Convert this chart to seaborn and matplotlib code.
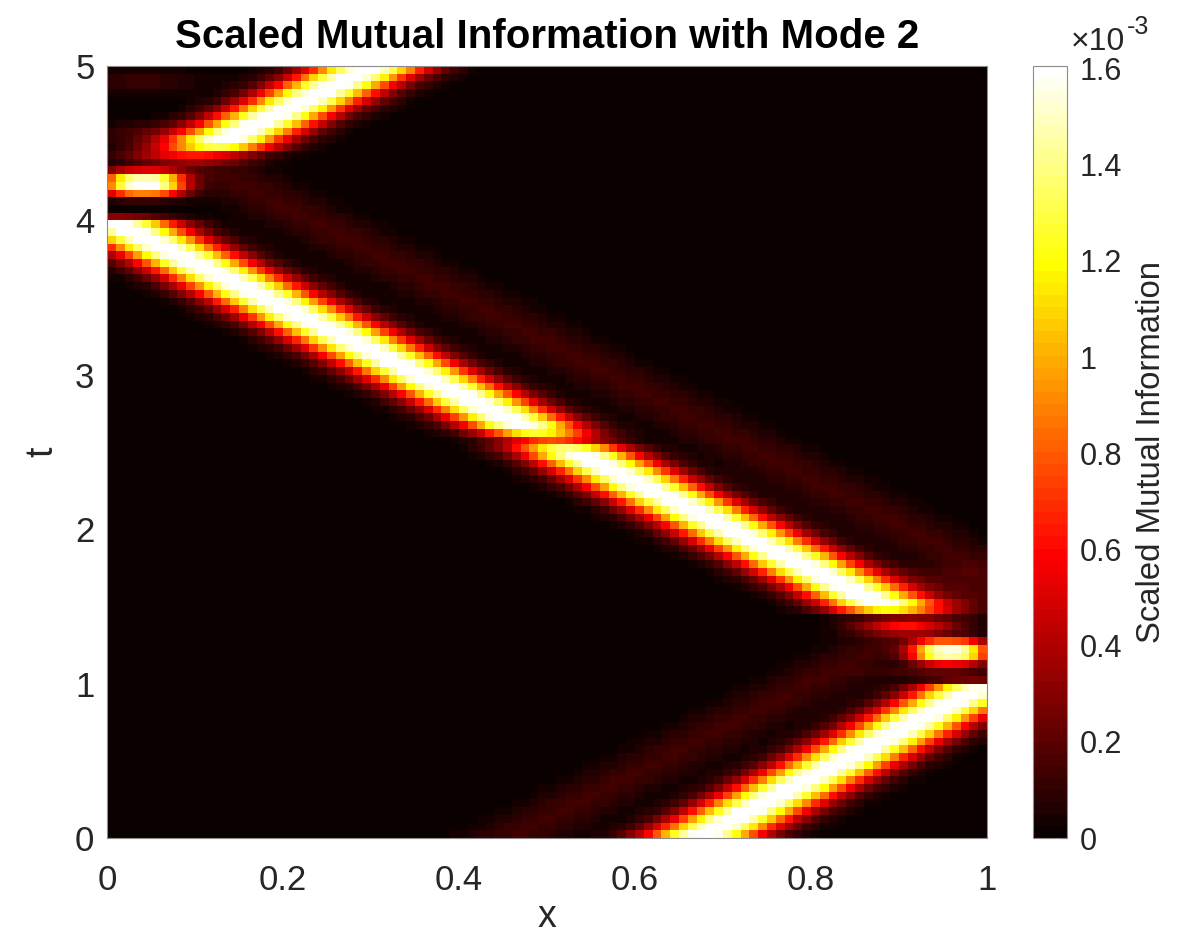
import numpy as np
import pandas as pd
import matplotlib
matplotlib.use("Agg")
import matplotlib.pyplot as plt
import seaborn as sns
from matplotlib.colors import ListedColormap
from matplotlib.ticker import FuncFormatter

# ---- grid of the (x, t) field -------------------------------------------
n_x, n_t = 100, 100
x_max, t_max = 1.0, 5.0
x_centers = (np.arange(n_x) + 0.5) / n_x * x_max
t_centers = (np.arange(n_t) + 0.5) / n_t * t_max

VMAX = 1.605e-3

# ---- bright travelling packets (straight ridges in the x-t plane) -------
ridge_t_start = [-0.10, 1.50, 4.50]
ridge_t_end = [0.965, 3.97, 5.10]
ridge_x_start = [0.638, 0.885, 0.128]
ridge_x_end = [0.990, 0.013, 0.338]
ridge_peak = [1.66e-3, 1.66e-3, 1.66e-3]
ridge_sigma = [0.045, 0.045, 0.045]

# dip of the left-going packet where it crosses the middle of the box
dip_t = [2.58]
dip_depth = [0.55]
dip_width = [0.035]

# ---- faint trailing packets ---------------------------------------------
ghost_t_start = [-0.10, 1.75]
ghost_t_end = [1.60, 4.35]
ghost_x_start = [0.424, 0.994]
ghost_x_end = [1.002, 0.113]
ghost_peak = [0.13e-3, 0.13e-3]
ghost_sigma = [0.042, 0.042]

# ---- localized spots at the walls (reflections) -------------------------
spot_x = [0.958, 0.042, 0.905, 0.095, 0.950, 0.040, 0.050, 0.950]
spot_t = [1.205, 4.240, 1.370, 4.420, 1.060, 4.900, 4.570, 1.680]
spot_sx = [0.033, 0.035, 0.040, 0.050, 0.050, 0.050, 0.050, 0.050]
spot_st = [0.060, 0.060, 0.035, 0.035, 0.018, 0.050, 0.050, 0.060]
spot_peak = [1.58e-3, 1.66e-3, 0.50e-3, 0.55e-3, 0.25e-3, 0.12e-3, 0.12e-3, 0.10e-3]
spot_power = [2.6, 2.6, 2.0, 2.0, 2.0, 2.0, 2.0, 2.0]

# ---- tick labels ---------------------------------------------------------
x_tick_labels = ["0", "0.2", "0.4", "0.6", "0.8", "1"]
t_tick_labels = ["0", "1", "2", "3", "4", "5"]
cbar_ticks = [0, 0.2e-3, 0.4e-3, 0.6e-3, 0.8e-3, 1.0e-3, 1.2e-3, 1.4e-3, 1.6e-3]

Xg, Tg = np.meshgrid(x_centers, t_centers)


def ridge_field(t0s, t1s, x0s, x1s, peaks, sigmas, taper):
    out = np.zeros((n_t, n_x))
    for t0, t1, x0, x1, pk, sg in zip(t0s, t1s, x0s, x1s, peaks, sigmas):
        slope = (x1 - x0) / (t1 - t0)
        tc = np.clip(Tg, t0, t1)
        xc = x0 + slope * (tc - t0)
        beyond = np.abs(Tg - tc)
        out += pk * np.exp(-(Xg - xc) ** 2 / (2 * sg ** 2)) * np.exp(-beyond ** 2 / (2 * taper ** 2))
    return out


bright = ridge_field(ridge_t_start, ridge_t_end, ridge_x_start, ridge_x_end,
                     ridge_peak, ridge_sigma, taper=0.03)
for td, dd, dw in zip(dip_t, dip_depth, dip_width):
    bright *= 1 - dd * np.exp(-(Tg - td) ** 2 / (2 * dw ** 2))

field = bright + ridge_field(ghost_t_start, ghost_t_end, ghost_x_start,
                             ghost_x_end, ghost_peak, ghost_sigma, taper=0.05)
for sx0, st0, ssx, sst, spk, pw in zip(spot_x, spot_t, spot_sx, spot_st, spot_peak, spot_power):
    field += spk * np.exp(-0.5 * np.abs((Xg - sx0) / ssx) ** pw
                          - 0.5 * np.abs((Tg - st0) / sst) ** pw)

df = pd.DataFrame(field, index=np.round(t_centers, 4), columns=np.round(x_centers, 4))

# ---- MATLAB-style 64-level "hot" colormap -------------------------------
n_c = 64
n1 = int(3 * n_c / 8)
n2 = n1
n3 = n_c - n1 - n2
red = np.concatenate([np.arange(1, n1 + 1) / n1, np.ones(n_c - n1)])
green = np.concatenate([np.zeros(n1), np.arange(1, n2 + 1) / n2, np.ones(n3)])
blue = np.concatenate([np.zeros(n1 + n2), np.arange(1, n3 + 1) / n3])
hot64 = ListedColormap(np.column_stack([red, green, blue]))

# ---- figure ---------------------------------------------------------------
sns.set_theme(style="white")
plt.rcParams["font.family"] = ["Liberation Sans", "DejaVu Sans"]
text_col = "#262626"

W, H = 1180, 939
fig = plt.figure(figsize=(W / 100, H / 100), dpi=100)
ax = fig.add_axes([107 / W, 1 - 838 / H, 880 / W, 772 / H])
cax = fig.add_axes([1033 / W, 1 - 838 / H, 34 / W, 772 / H])

sns.heatmap(df, ax=ax, cbar_ax=cax, cmap=hot64, vmin=0, vmax=VMAX,
            xticklabels=False, yticklabels=False, rasterized=True)
ax.set_ylim(0, n_t)
ax.set_xlim(0, n_x)

ax.set_xticks(np.linspace(0, n_x, len(x_tick_labels)))
ax.set_xticklabels(x_tick_labels, rotation=0)
ax.set_yticks(np.linspace(0, n_t, len(t_tick_labels)))
ax.set_yticklabels(t_tick_labels, rotation=0)
ax.tick_params(axis="both", length=0, labelsize=25, colors=text_col)
ax.tick_params(axis="x", pad=19)
ax.tick_params(axis="y", pad=9)
for sp in ax.spines.values():
    sp.set_visible(True)
    sp.set_color("#8c8c8c")
    sp.set_linewidth(0.8)

ax.set_xlabel("x", fontsize=27, color=text_col)
ax.xaxis.set_label_coords(0.5, -(917 - 838) / 772)
ax.xaxis.label.set_va("center")
ax.set_ylabel("t", fontsize=27, color=text_col)
ax.yaxis.set_label_coords(-(107 - 42) / 880, 0.5)
ax.yaxis.label.set_va("center")

fig.text(547 / W, 1 - 48 / H, "Scaled Mutual Information with Mode 2",
         ha="center", va="baseline", fontsize=29, fontweight="bold", color="black")

# ---- colorbar -------------------------------------------------------------
cbar = ax.collections[0].colorbar
cbar.set_ticks(cbar_ticks)
cbar.ax.yaxis.set_major_formatter(FuncFormatter(lambda v, p: f"{v * 1e3:g}"))
cbar.ax.tick_params(direction="in", length=5, width=0.8, color="#404040",
                    labelsize=22, labelcolor=text_col, pad=9)
cbar.outline.set_visible(True)
cbar.outline.set_edgecolor("#8c8c8c")
cbar.outline.set_linewidth(0.8)
cbar.set_label("Scaled Mutual Information", fontsize=23.7, color=text_col)
cbar.ax.yaxis.set_label_coords((1151 - 1033) / 34, 0.5)
cbar.ax.yaxis.label.set_va("center")

fig.text(1071 / W, 1 - 50 / H, "\u00d710", ha="left", va="baseline",
         fontsize=23, color=text_col)
fig.text(1127 / W, 1 - 34 / H, "-3", ha="left", va="baseline",
         fontsize=18, color=text_col)

fig.savefig("out.png", dpi=100)
